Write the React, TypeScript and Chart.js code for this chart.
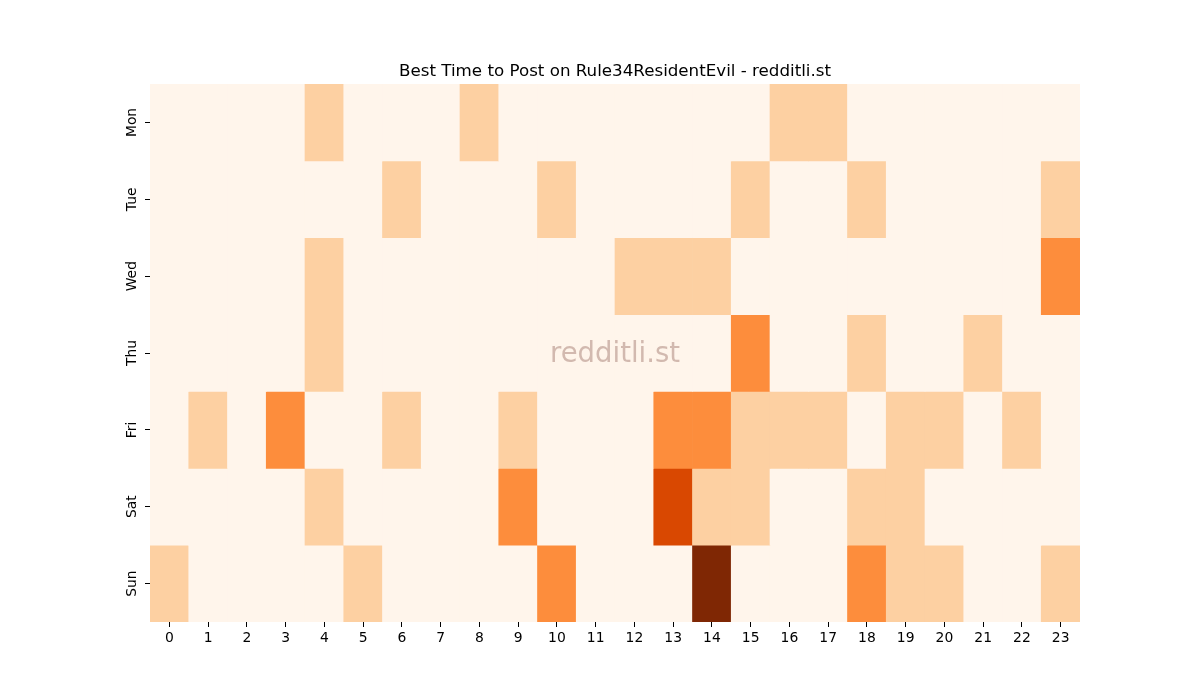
import { useEffect, useRef } from 'react';
import Chart from 'chart.js/auto';

const hours = ['0', '1', '2', '3', '4', '5', '6', '7', '8', '9', '10', '11', '12', '13', '14', '15', '16', '17', '18', '19', '20', '21', '22', '23'];
const days = ['Mon', 'Tue', 'Wed', 'Thu', 'Fri', 'Sat', 'Sun'];

// post activity level per hour (0 = none, 4 = best)
const mon = [0, 0, 0, 0, 1, 0, 0, 0, 1, 0, 0, 0, 0, 0, 0, 0, 1, 1, 0, 0, 0, 0, 0, 0];
const tue = [0, 0, 0, 0, 0, 0, 1, 0, 0, 0, 1, 0, 0, 0, 0, 1, 0, 0, 1, 0, 0, 0, 0, 1];
const wed = [0, 0, 0, 0, 1, 0, 0, 0, 0, 0, 0, 0, 1, 1, 1, 0, 0, 0, 0, 0, 0, 0, 0, 2];
const thu = [0, 0, 0, 0, 1, 0, 0, 0, 0, 0, 0, 0, 0, 0, 0, 2, 0, 0, 1, 0, 0, 1, 0, 0];
const fri = [0, 1, 0, 2, 0, 0, 1, 0, 0, 1, 0, 0, 0, 2, 2, 1, 1, 1, 0, 1, 1, 0, 1, 0];
const sat = [0, 0, 0, 0, 1, 0, 0, 0, 0, 2, 0, 0, 0, 3, 1, 1, 0, 0, 1, 1, 0, 0, 0, 0];
const sun = [1, 0, 0, 0, 0, 1, 0, 0, 0, 0, 2, 0, 0, 0, 4, 0, 0, 0, 2, 1, 1, 0, 0, 1];
const levels = [mon, tue, wed, thu, fri, sat, sun];

const palette = ['#fff5eb', '#fdd0a2', '#fd8d3c', '#d94801', '#7f2704'];

const watermark = {
  id: 'watermark',
  afterDatasetsDraw(chart: any) {
    const { ctx, chartArea } = chart;
    ctx.save();
    ctx.font = '27.5px "DejaVu Sans"';
    ctx.fillStyle = 'rgba(165, 125, 115, 0.5)';
    ctx.textAlign = 'center';
    ctx.textBaseline = 'middle';
    ctx.fillText('redditli.st', (chartArea.left + chartArea.right) / 2, (chartArea.top + chartArea.bottom) / 2 + 2);
    ctx.restore();
  },
};

export default function App() {
  const canvasRef = useRef<HTMLCanvasElement>(null);
  const chartInstance = useRef<Chart | null>(null);

  useEffect(() => {
    document.body.style.margin = '0';
    if (!canvasRef.current) return;
    const ctx = canvasRef.current.getContext('2d');
    if (!ctx) return;
    if (chartInstance.current) chartInstance.current.destroy();

    chartInstance.current = new Chart(ctx, {
      type: 'bar',
      data: {
        labels: hours,
        datasets: days.map((day, d) => ({
          label: day,
          data: hours.map(() => [d - 0.5, d + 0.5]) as any,
          backgroundColor: levels[d].map(v => palette[v]),
          borderWidth: 0,
          barPercentage: 1,
          categoryPercentage: 1,
          grouped: false,
        })),
      },
      options: {
        responsive: false,
        animation: false,
        layout: { padding: { left: 30 } },
        plugins: {
          legend: { display: false },
          tooltip: { enabled: false },
          title: {
            display: true,
            text: 'Best Time to Post on Rule34ResidentEvil - redditli.st',
            color: '#000',
            font: { family: 'DejaVu Sans', size: 16.7, weight: 'normal', lineHeight: 1.2 },
            padding: { top: 62, bottom: 2 },
          },
        },
        scales: {
          x: {
            offset: true,
            border: { display: false },
            grid: { display: true, drawOnChartArea: false, offset: false, tickLength: 5, color: '#000', tickColor: '#000' },
            ticks: { color: '#000', padding: 3, maxRotation: 0, font: { family: 'DejaVu Sans', size: 13.9 } },
            afterFit: (scale: any) => { scale.height = 78; },
          },
          y: {
            min: -0.5,
            max: 6.5,
            reverse: true,
            border: { display: false },
            grid: { display: true, drawOnChartArea: false, tickLength: 5, color: '#000', tickColor: '#000' },
            afterBuildTicks: (scale: any) => { scale.ticks = days.map((_, i) => ({ value: i })); },
            ticks: {
              color: '#000',
              padding: -3,
              minRotation: 90,
              maxRotation: 90,
              crossAlign: 'center',
              font: { family: 'DejaVu Sans', size: 13.9 },
              callback: (value: any) => days[Number(value)] ?? '',
            },
            afterFit: (scale: any) => { scale.width = 120; },
          },
          // empty right-hand axis, only reserves the margin on the right
          yRight: {
            position: 'right',
            min: 0,
            max: 1,
            border: { display: false },
            grid: { display: false },
            ticks: { display: false },
            afterFit: (scale: any) => { scale.width = 120; },
          },
        },
      },
      plugins: [watermark],
    });

    return () => {
      if (chartInstance.current) {
        chartInstance.current.destroy();
        chartInstance.current = null;
      }
    };
  }, []);

  return (
    <div style={{ width: 1200, height: 700, background: '#fff' }}>
      <canvas ref={canvasRef} width={1200} height={700} />
    </div>
  );
}
